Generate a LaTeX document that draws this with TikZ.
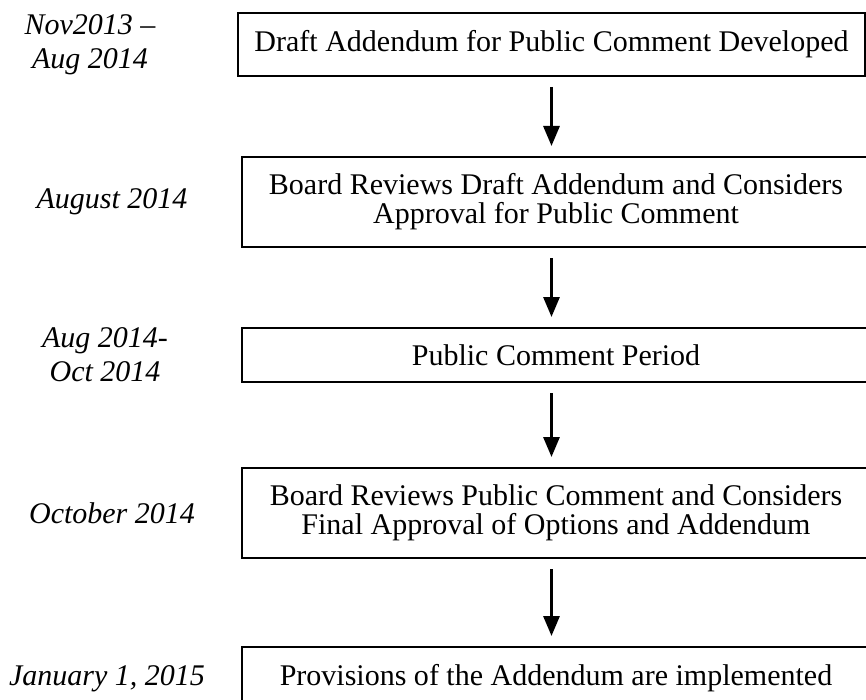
\documentclass[tikz,border=0pt]{standalone}
\usepackage{fontspec}
\setmainfont{Liberation Serif}
\usetikzlibrary{arrows.meta, positioning}

\begin{document}
\begin{tikzpicture}[
  stage/.style={draw, line width=1pt, minimum width=314pt, inner sep=2pt,
                align=center, font=\fontsize{15}{14.5}\selectfont},
  period/.style={align=center, font=\fontsize{15}{17}\selectfont\itshape},
  flow/.style={-{Triangle[width=8pt, length=10pt]}, line width=1.5pt}]

  \useasboundingbox (0,0) rectangle (433pt,-350pt);

  % steps of the schedule
  \node[stage, minimum width=313.5pt, minimum height=31.5pt, anchor=north west]
       (draft) at (118.5pt,-6pt) {Draft Addendum for Public Comment Developed};
  \node[stage, minimum height=45pt, below=39.5pt of draft.south west,
        anchor=north west, xshift=2pt] (review)
       {Board Reviews Draft Addendum and Considers\\Approval for Public Comment};
  \node[stage, minimum height=27pt, below=39.5pt of review.south west,
        anchor=north west] (comment) {Public Comment Period};
  \node[stage, minimum height=45pt, below=42pt of comment.south west,
        anchor=north west] (final)
       {Board Reviews Public Comment and Considers\\Final Approval of Options and Addendum};
  \node[stage, minimum height=31.5pt, below=43.5pt of final.south west,
        anchor=north west] (impl) {Provisions of the Addendum are implemented};

  % dates
  \node[period] (tdraft)   at (45pt,0 |- draft)   {Nov2013 --\\Aug 2014};
  \node[period] (treview)  at (56pt,0 |- review)  {August 2014};
  \node[period] (tcomment) at (52.5pt,0 |- comment) {Aug 2014-\\Oct 2014};
  \node[period] (tfinal)   at (56pt,0 |- final)   {October 2014};
  \node[period] (timpl)    at (53.5pt,0 |- impl)  {January 1, 2015};

  \draw[flow] ([yshift=-5pt]draft.south) -- ([yshift=5pt]draft.south |- review.north);
  \draw[flow] ([yshift=-5pt]draft.south |- review.south) -- ([yshift=5pt]draft.south |- comment.north);
  \draw[flow] ([yshift=-5pt]draft.south |- comment.south) -- ([yshift=5pt]draft.south |- final.north);
  \draw[flow] ([yshift=-5pt]draft.south |- final.south) -- ([yshift=5pt]draft.south |- impl.north);
\end{tikzpicture}
\end{document}
